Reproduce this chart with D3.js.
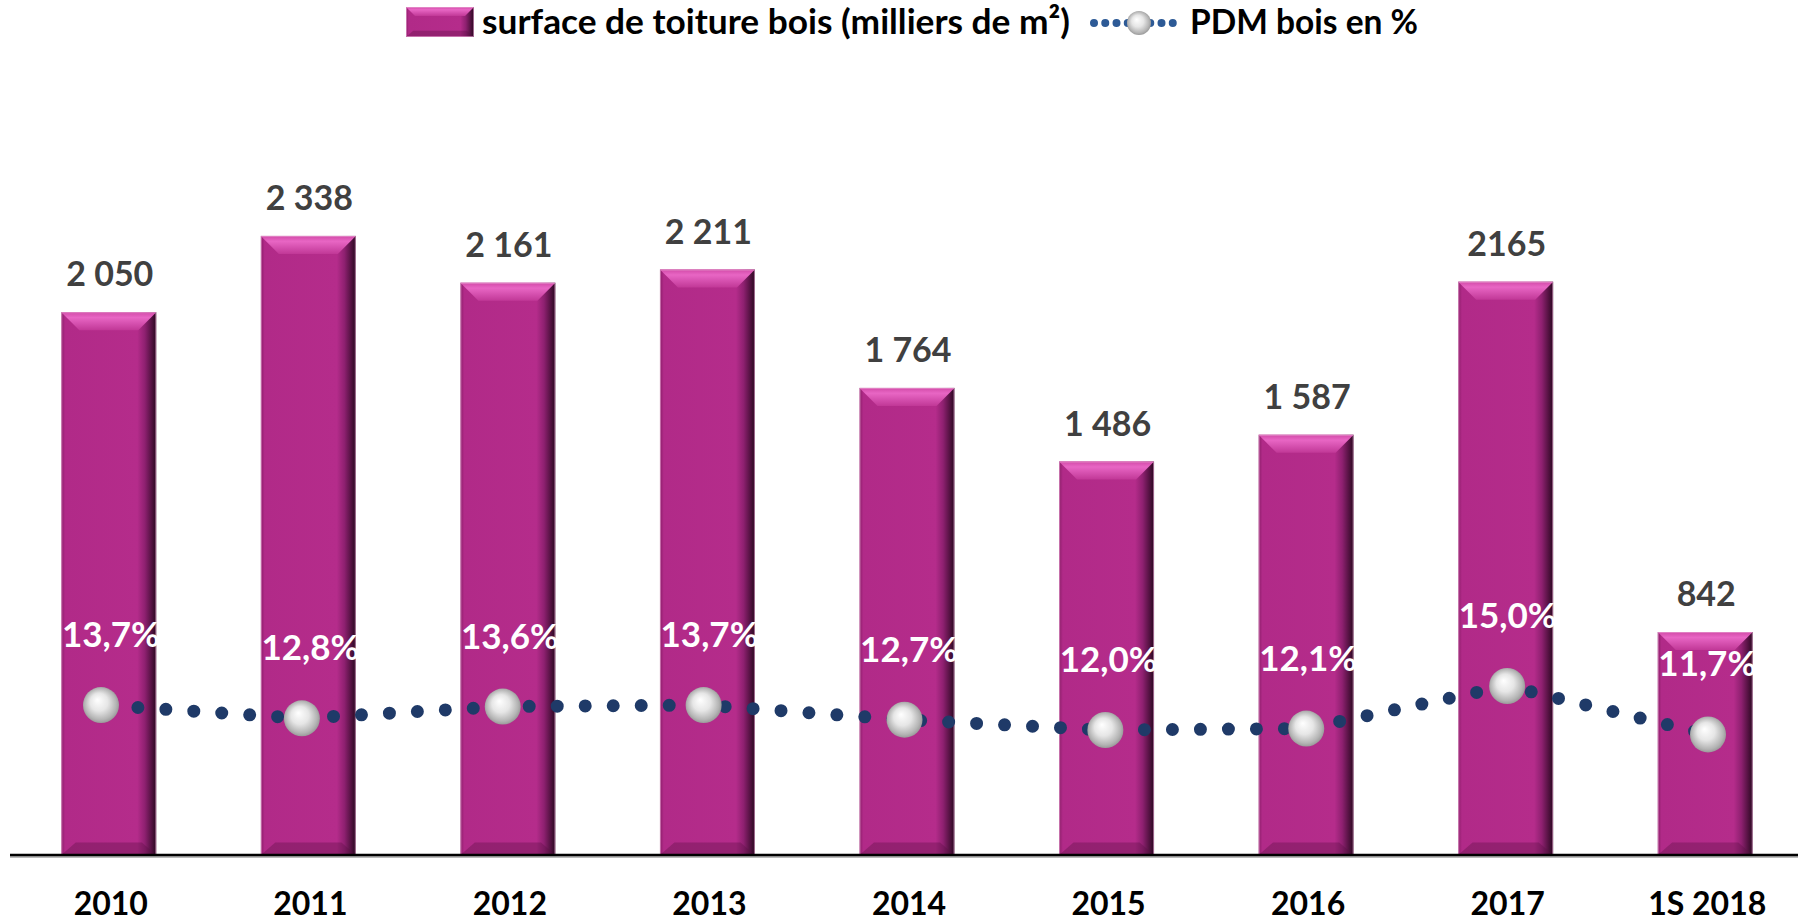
<!doctype html>
<html lang="fr">
<head>
  <meta charset="utf-8">
  <title>Surface de toiture bois</title>
  <script type="text/javascript" src="https://cdnjs.cloudflare.com/ajax/libs/d3/7.8.5/d3.min.js"></script>
  <style>
    body { margin: 0; background: #fff; }
    text { font-family: "Lato", "Open Sans", sans-serif; font-weight: bold; }
  </style>
</head>
<body>
  <svg width="1798" height="922" id="svg"></svg>
</body>

<script type="text/javascript">

	// data
	var years = ['2010','2011','2012','2013','2014','2015','2016','2017','1S 2018'];
	var surface = [2050, 2338, 2161, 2211, 1764, 1486, 1587, 2165, 842];
	var surfaceLabels = ['2 050','2 338','2 161','2 211','1 764','1 486','1 587','2165','842'];
	var pdm = [13.7, 12.8, 13.6, 13.7, 12.7, 12.0, 12.1, 15.0, 11.7];
	var pdmLabels = ['13,7%','12,8%','13,6%','13,7%','12,7%','12,0%','12,1%','15,0%','11,7%'];

	var svg = d3.select('#svg');
	var baseY = 855;
	var bevel = 18;

	var x = d3.scaleBand()
		.domain(years)
		.range([9, 1805])
		.paddingInner(0.524)
		.paddingOuter(0.262);

	// line sits on its own (secondary) x axis in the original
	var x2 = d3.scalePoint()
		.domain(years)
		.range([101, 1708]);

	var y = d3.scaleLinear()
		.domain([0, 2500])
		.range([baseY, 193]);

	var y2 = d3.scaleLinear()
		.domain([0, 15])
		.range([906, 686]);

	// gradients for the bevelled bars and the silver markers
	var defs = svg.append('defs');

	var sideGrad = defs.append('linearGradient').attr('id','barSide');
	[['0%','#8c1e6a'],['4%','#b12a88'],['80%','#b52c8b'],['88%','#8e2070'],['100%','#2a0820']]
		.forEach(function(s) { sideGrad.append('stop').attr('offset',s[0]).attr('stop-color',s[1]); });

	var topGrad = defs.append('linearGradient').attr('id','barTop')
		.attr('x1',0).attr('y1',0).attr('x2',0).attr('y2',1);
	[['0%','#d24aa8'],['30%','#e866c4'],['100%','#c13897']]
		.forEach(function(s) { topGrad.append('stop').attr('offset',s[0]).attr('stop-color',s[1]); });

	var silver = defs.append('radialGradient').attr('id','silver')
		.attr('cx','50%').attr('cy','50%').attr('r','55%')
		.attr('fx','40%').attr('fy','35%');
	[['0%','#ffffff'],['45%','#e6e6e6'],['80%','#b4b4b4'],['100%','#8c8c8c']]
		.forEach(function(s) { silver.append('stop').attr('offset',s[0]).attr('stop-color',s[1]); });

	function drawBevelBar(g, x0, y0, w, h, b) {
		g.append('rect')
			.attr('x',x0).attr('y',y0)
			.attr('width',w).attr('height',h)
			.attr('fill','url(#barSide)');
		g.append('polygon')
			.attr('points',[[x0,y0],[x0+w,y0],[x0+w-b,y0+b],[x0+b,y0+b]].join(' '))
			.attr('fill','url(#barTop)');
		g.append('polygon')
			.attr('points',[[x0,y0+h],[x0+w,y0+h],[x0+w-b*0.8,y0+h-b*0.7],[x0+b*0.8,y0+h-b*0.7]].join(' '))
			.attr('fill','#5a0f41')
			.attr('opacity',0.35);
		g.append('rect')
			.attr('x',x0+0.5).attr('y',y0+0.5)
			.attr('width',w-1).attr('height',h-1)
			.attr('fill','none')
			.attr('stroke','#e9a6d4')
			.attr('stroke-opacity',0.6)
			.attr('stroke-width',1);
	}

	// bars
	var bars = svg.append('g');
	years.forEach(function(d,i) {
		drawBevelBar(bars, x(d), y(surface[i]), x.bandwidth(), baseY - y(surface[i]), bevel);
	});

	// value labels above the bars
	svg.selectAll('.vlabel')
		.data(years)
		.enter()
		.append('text')
		.attr('class','vlabel')
		.attr('x',function(d) { return x(d) + x.bandwidth()/2 + 1; })
		.attr('y',function(d,i) { return y(surface[i]) - 26; })
		.attr('text-anchor','middle')
		.attr('fill','#404040')
		.attr('font-size',34)
		.text(function(d,i) { return surfaceLabels[i]; });

	// x axis
	svg.append('line')
		.attr('x1',10).attr('x2',1798)
		.attr('y1',baseY+2).attr('y2',baseY+2)
		.attr('stroke','#bbb')
		.attr('stroke-width',2);
	svg.append('line')
		.attr('x1',10).attr('x2',1798)
		.attr('y1',baseY).attr('y2',baseY)
		.attr('stroke','#000')
		.attr('stroke-width',2.5);

	svg.selectAll('.xlabel')
		.data(years)
		.enter()
		.append('text')
		.attr('class','xlabel')
		.attr('x',function(d) { return x(d) + x.bandwidth()/2 + 2; })
		.attr('y',915)
		.attr('text-anchor','middle')
		.attr('fill','#000')
		.attr('font-size',32)
		.text(function(d) { return d; });

	// dotted line for PDM
	var line = d3.line()
		.x(function(d,i) { return x2(years[i]); })
		.y(function(d) { return y2(d); });

	svg.append('path')
		.datum(pdm)
		.attr('d',line)
		.attr('fill','none')
		.attr('stroke','#1f3a68')
		.attr('stroke-width',13)
		.attr('stroke-linecap','round')
		.attr('stroke-dasharray','0 28')
		.attr('stroke-dashoffset',-9);

	svg.selectAll('.marker')
		.data(pdm)
		.enter()
		.append('circle')
		.attr('class','marker')
		.attr('cx',function(d,i) { return x2(years[i]); })
		.attr('cy',function(d) { return y2(d); })
		.attr('r',18)
		.attr('fill','url(#silver)');

	svg.selectAll('.plabel')
		.data(pdm)
		.enter()
		.append('text')
		.attr('class','plabel')
		.attr('x',function(d,i) { return x(years[i]) + x.bandwidth()/2 + 2; })
		.attr('y',function(d) { return y2(d) - 58; })
		.attr('text-anchor','middle')
		.attr('fill','#fff')
		.attr('font-size',35)
		.text(function(d,i) { return pdmLabels[i]; });

	// legend
	var legend = svg.append('g');
	drawBevelBar(legend, 406, 7, 68, 30, 9);
	legend.append('text')
		.attr('x',482).attr('y',34)
		.attr('fill','#000')
		.attr('font-size',35)
		.attr('textLength',588)
		.attr('lengthAdjust','spacingAndGlyphs')
		.text('surface de toiture bois (milliers de m²)');

	legend.append('line')
		.attr('x1',1094).attr('x2',1184)
		.attr('y1',23).attr('y2',23)
		.attr('stroke','#2d5a96')
		.attr('stroke-width',8)
		.attr('stroke-linecap','round')
		.attr('stroke-dasharray','0 11.25');
	legend.append('circle')
		.attr('cx',1139).attr('cy',23)
		.attr('r',12)
		.attr('fill','url(#silver)');
	legend.append('text')
		.attr('x',1190).attr('y',34)
		.attr('fill','#000')
		.attr('font-size',34)
		.attr('textLength',228)
		.attr('lengthAdjust','spacingAndGlyphs')
		.text('PDM bois en %');

</script>
</html>
